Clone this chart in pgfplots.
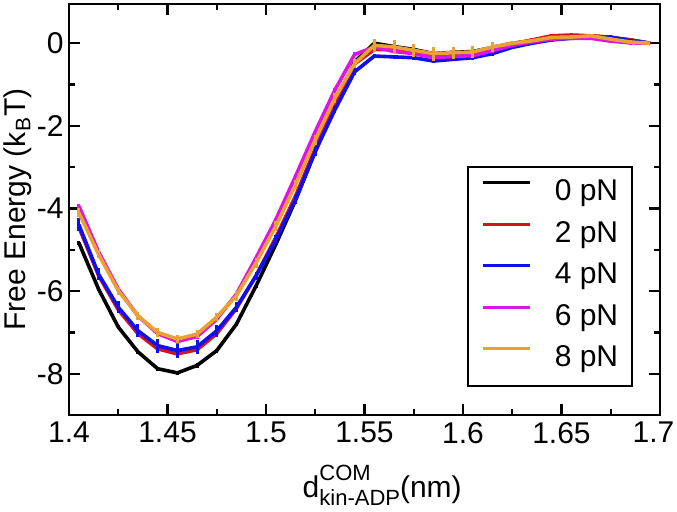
\documentclass[border=0pt]{standalone}
\usepackage{pgfplots}
\pgfplotsset{compat=1.18}
\usepackage{pgfplotstable}
\usepackage{fontspec}
\setmainfont{Liberation Sans}
\definecolor{cred}{RGB}{210,20,30}
\definecolor{cblue}{RGB}{15,15,240}
\definecolor{cmag}{RGB}{220,20,230}
\definecolor{corange}{RGB}{235,160,50}

\pgfplotstableread{
x y e
1.405 -4.83 0.05
1.415 -5.95 0.05
1.425 -6.87 0.05
1.435 -7.47 0.05
1.445 -7.88 0.05
1.455 -7.98 0.05
1.465 -7.80 0.05
1.475 -7.44 0.05
1.485 -6.80 0.05
1.495 -5.87 0.05
1.505 -4.87 0.05
1.515 -3.80 0.05
1.525 -2.62 0.05
1.535 -1.50 0.05
1.545 -0.45 0.05
1.555 0.00 0.05
1.565 -0.08 0.05
1.575 -0.15 0.05
1.585 -0.25 0.05
1.595 -0.22 0.05
1.605 -0.20 0.05
1.615 -0.10 0.05
1.625 0.00 0.05
1.635 0.06 0.05
1.645 0.12 0.05
1.655 0.15 0.05
1.665 0.18 0.05
1.675 0.14 0.05
1.685 0.08 0.05
1.695 0.00 0.00
}\dataA
\pgfplotstableread{
x y e
1.405 -4.45 0.05
1.415 -5.62 0.05
1.425 -6.45 0.05
1.435 -7.03 0.05
1.445 -7.40 0.05
1.455 -7.52 0.05
1.465 -7.42 0.05
1.475 -7.03 0.05
1.485 -6.42 0.05
1.495 -5.62 0.05
1.505 -4.70 0.05
1.515 -3.70 0.05
1.525 -2.55 0.05
1.535 -1.45 0.05
1.545 -0.50 0.05
1.555 -0.15 0.05
1.565 -0.15 0.05
1.575 -0.20 0.05
1.585 -0.30 0.05
1.595 -0.28 0.05
1.605 -0.25 0.05
1.615 -0.12 0.05
1.625 -0.02 0.05
1.635 0.08 0.05
1.645 0.18 0.05
1.655 0.20 0.05
1.665 0.18 0.05
1.675 0.14 0.05
1.685 0.08 0.05
1.695 0.00 0.00
}\dataB
\pgfplotstableread{
x y e
1.405 -4.39 0.15
1.415 -5.59 0.15
1.425 -6.39 0.15
1.435 -6.96 0.16
1.445 -7.32 0.17
1.455 -7.44 0.17
1.465 -7.35 0.17
1.475 -6.96 0.15
1.485 -6.39 0.12
1.495 -5.63 0.10
1.505 -4.75 0.10
1.515 -3.78 0.10
1.525 -2.62 0.10
1.535 -1.61 0.08
1.545 -0.69 0.08
1.555 -0.31 0.05
1.565 -0.33 0.05
1.575 -0.35 0.05
1.585 -0.43 0.05
1.595 -0.39 0.05
1.605 -0.35 0.05
1.615 -0.25 0.05
1.625 -0.10 0.04
1.635 0.00 0.04
1.645 0.08 0.04
1.655 0.12 0.04
1.665 0.14 0.04
1.675 0.15 0.04
1.685 0.06 0.04
1.695 0.00 0.00
}\dataC
\pgfplotstableread{
x y e
1.405 -3.94 0.05
1.415 -5.05 0.05
1.425 -5.95 0.05
1.435 -6.60 0.05
1.445 -7.03 0.05
1.455 -7.22 0.05
1.465 -7.10 0.05
1.475 -6.68 0.05
1.485 -6.07 0.05
1.495 -5.19 0.05
1.505 -4.27 0.05
1.515 -3.22 0.05
1.525 -2.14 0.05
1.535 -1.13 0.05
1.545 -0.27 0.05
1.555 -0.09 0.05
1.565 -0.20 0.05
1.575 -0.25 0.05
1.585 -0.35 0.05
1.595 -0.32 0.05
1.605 -0.30 0.05
1.615 -0.18 0.05
1.625 -0.05 0.05
1.635 0.03 0.05
1.645 0.10 0.05
1.655 0.12 0.05
1.665 0.12 0.05
1.675 0.05 0.05
1.685 0.01 0.05
1.695 0.00 0.00
}\dataD
\pgfplotstableread{
x y e
1.405 -4.10 0.10
1.415 -5.11 0.10
1.425 -5.99 0.10
1.435 -6.60 0.10
1.445 -7.00 0.10
1.455 -7.16 0.10
1.465 -7.04 0.10
1.475 -6.63 0.10
1.485 -6.11 0.12
1.495 -5.31 0.12
1.505 -4.43 0.12
1.515 -3.42 0.12
1.525 -2.34 0.12
1.535 -1.33 0.12
1.545 -0.49 0.12
1.555 -0.05 0.16
1.565 -0.09 0.17
1.575 -0.17 0.16
1.585 -0.25 0.17
1.595 -0.23 0.15
1.605 -0.21 0.14
1.615 -0.09 0.12
1.625 0.00 0.05
1.635 0.06 0.04
1.645 0.14 0.04
1.655 0.15 0.04
1.665 0.18 0.04
1.675 0.10 0.04
1.685 0.03 0.04
1.695 0.00 0.00
}\dataE

\begin{document}
\begin{tikzpicture}
\useasboundingbox (-34.5pt,-48pt) rectangle (304pt,207.5pt);
\begin{axis}[
  at={(0,0)}, anchor=south west,
  scale only axis, width=295.5pt, height=205.5pt,
  xmin=1.4, xmax=1.7, ymin=-9, ymax=0.95,
  axis line style={line width=1.3pt},
  tick align=inside,
  tick style={line width=1.2pt, black},
  major tick length=5.5pt, minor tick length=3pt,
  xtick={1.4,1.45,1.5,1.55,1.6,1.65,1.7},
  xticklabels={1.4,1.45,1.5,1.55,1.6,1.65,{\hspace*{-6.5pt}1.7}},
  minor x tick num=1,
  ytick={-8,-6,-4,-2,0},
  yticklabels={-8,-6,-4,-2,0},
  minor y tick num=1,
  ticklabel style={font=\fontsize{15}{18}\selectfont},
  yticklabel style={inner xsep=2.5pt},
  xlabel={d\rlap{\raisebox{8.5pt}{\fontsize{11}{13}\selectfont COM}}\raisebox{-4pt}{\fontsize{11}{13}\selectfont kin-ADP}(nm)},
  ylabel={Free Energy (k\textsubscript{B}T)},
  every axis x label/.style={at={(axis description cs:0.53,-0.221)}, anchor=south, inner sep=0pt, font=\fontsize{15}{18}\selectfont},
  every axis y label/.style={at={(axis description cs:-0.086,0.5)}, anchor=center, rotate=90, inner sep=0pt, font=\fontsize{15}{18}\selectfont},
  legend style={at={(0.954,0.606)}, anchor=north east, draw=black, line width=1pt,
    font=\fontsize{15}{18}\selectfont, inner xsep=6.8pt, inner ysep=6.3pt,
    row sep=6.85pt, nodes={inner sep=0pt, text height=10.7pt, text depth=3.2pt}},
  legend cell align=left,
  /tikz/every odd column/.append style={column sep=11.85pt},
  legend image code/.code={\draw[#1, line width=1.4pt] (0pt,5.4pt) -- (23.6pt,5.4pt);},
  every axis plot/.append style={line width=1.8pt, mark=none},
  error bars/y dir=both, error bars/y explicit,
  error bars/error mark=none,
  error bars/error bar style={line width=1.5pt},
]
\addplot[black] table[x=x,y=y,y error=e]{\dataA};
\addlegendentry{0 pN}
\addplot[cred] table[x=x,y=y,y error=e]{\dataB};
\addlegendentry{2 pN}
\addplot[cblue] table[x=x,y=y,y error=e]{\dataC};
\addlegendentry{4 pN}
\addplot[cmag] table[x=x,y=y,y error=e]{\dataD};
\addlegendentry{6 pN}
\addplot[corange] table[x=x,y=y,y error=e]{\dataE};
\addlegendentry{8 pN}
\end{axis}
\end{tikzpicture}
\end{document}
